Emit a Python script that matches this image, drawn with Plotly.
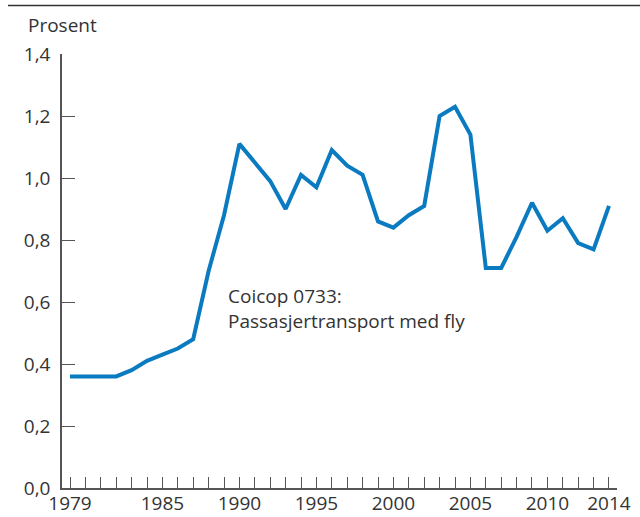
import plotly.graph_objects as go

years = list(range(1979, 2015))
values = [0.36, 0.36, 0.36, 0.36, 0.38, 0.41, 0.43, 0.45, 0.48, 0.70,
          0.88, 1.11, 1.05, 0.99, 0.90, 1.01, 0.97, 1.09, 1.04, 1.01,
          0.86, 0.84, 0.88, 0.91, 1.20, 1.23, 1.14, 0.71, 0.71, 0.81,
          0.92, 0.83, 0.87, 0.79, 0.77, 0.91]
labeled_years = [1979, 1985, 1990, 1995, 2000, 2005, 2010, 2014]
y_ticks = [0.0, 0.2, 0.4, 0.6, 0.8, 1.0, 1.2, 1.4]
y_tick_text = ["0,0", "0,2", "0,4", "0,6", "0,8", "1,0", "1,2", "1,4"]

FONT = "Open Sans"
FS = 19
fig = go.Figure()
fig.add_trace(go.Scatter(x=years, y=values, mode="lines",
                         line=dict(color="#0a7bc1", width=4),
                         hoverinfo="skip"))

fig.update_layout(
    width=640, height=517,
    margin=dict(l=62, r=23, t=54, b=29, autoexpand=False),
    plot_bgcolor="white", paper_bgcolor="white",
    showlegend=False,
    font=dict(family=FONT, size=FS, color="#333333"),
    xaxis=dict(range=[1978.48, 2014.52], tickmode="array",
               tickvals=years, automargin=False,
               ticktext=[str(y) if y in labeled_years else "" for y in years],
               ticks="inside", ticklen=11, tickwidth=1.2, tickcolor="#555555",
               showline=True, linecolor="#555555", linewidth=1.5,
               showgrid=False, zeroline=False, ticklabelstandoff=-3,
               tickfont=dict(family=FONT, size=FS, color="#333333")),
    yaxis=dict(range=[0, 1.4], tickmode="array", tickvals=y_ticks,
               ticktext=y_tick_text, automargin=False,
               ticks="inside", ticklen=13, tickwidth=1.2, tickcolor="#555555",
               showline=True, linecolor="#555555", linewidth=1.5,
               showgrid=False, zeroline=False, ticklabelstandoff=6,
               tickfont=dict(family=FONT, size=FS, color="#333333")),
)

fig.add_annotation(text="Prosent", xref="paper", yref="paper",
                   x=-36/555, y=(488-25)/434, xanchor="left", yanchor="middle",
                   showarrow=False, font=dict(family=FONT, size=FS, color="#333333"))
fig.add_annotation(text="Coicop 0733:<br>Passasjertransport med fly",
                   xref="paper", yref="paper",
                   x=(226-62)/555, y=(488-308)/434, xanchor="left", yanchor="middle",
                   align="left", showarrow=False,
                   font=dict(family=FONT, size=FS, color="#333333"))
fig.add_shape(type="line", xref="paper", yref="paper",
              x0=(8-62)/555, x1=(640-62)/555, y0=(488-5.5)/434, y1=(488-5.5)/434,
              line=dict(color="#333333", width=1.5))

fig.write_html("out.html", config={"displayModeBar": False},
               post_script="document.body.style.margin='0';document.body.style.overflow='hidden';")
